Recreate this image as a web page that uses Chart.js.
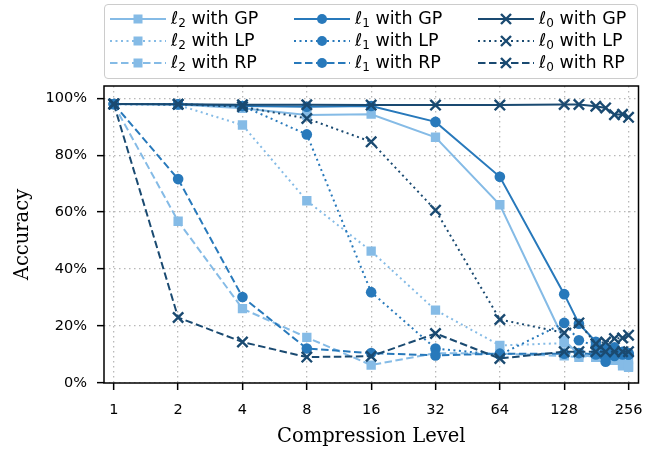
<!DOCTYPE html>
<html>
<head>
<meta charset="utf-8">
<script src="https://cdn.jsdelivr.net/npm/chart.js@4/dist/chart.umd.min.js"></script>
<style>
  html, body { margin: 0; padding: 0; background: #fff; }
  #wrap { position: relative; width: 667px; height: 449px; }
  #c { position: absolute; left: 0; top: 0; }
  #legend { position: absolute; left: 104px; top: 4px; width: 534px; height: 75px;
    border: 1.5px solid #cccccc; border-radius: 4px; box-sizing: border-box; background: rgba(255,255,255,0.8); }
  .item { position: absolute; height: 22px; display: flex; align-items: center;
    font-family: "DejaVu Sans", sans-serif; font-size: 17.5px; color: #000; white-space: nowrap; }
  .item svg { margin-right: 5px; }
  .item sub { font-size: 12px; vertical-align: -3px; }
</style>
</head>
<body>
<div id="wrap">
  <canvas id="c" width="667" height="449"></canvas>
  <div id="legend"></div>
</div>
<script>
// Compression levels (x values)
const levels = [1, 2, 4, 8, 16, 32, 64, 128, 150, 180, 200, 220, 240, 256];
const xTicks = [1, 2, 4, 8, 16, 32, 64, 128, 256];
const yTicks = [0, 20, 40, 60, 80, 100];

// Accuracy (%) for each norm / pruning method
const l2GP = [98.0, 97.8, 96.5, 94.1, 94.4, 86.3, 62.6, 15.0, 10.0, 9.0, 8.5, 8.0, 6.0, 5.5];
const l2LP = [97.8, 97.6, 90.6, 64.0, 46.3, 25.6, 13.2, 14.0, 10.5, 9.0, 8.5, 8.0, 9.0, 8.5];
const l2RP = [97.8, 56.8, 26.1, 16.0, 6.3, 10.5, 10.3, 9.5, 9.0, 10.0, 9.5, 8.0, 7.0, 6.0];
const l1GP = [98.0, 97.9, 97.3, 97.0, 97.3, 91.7, 72.4, 31.2, 20.8, 14.5, 12.0, 12.5, 11.0, 10.5];
const l1LP = [98.0, 97.9, 97.3, 87.3, 31.9, 12.1, 9.9, 21.1, 15.0, 13.0, 10.0, 11.0, 10.5, 10.0];
const l1RP = [98.0, 71.6, 30.2, 12.1, 10.5, 9.7, 10.3, 10.3, 10.5, 10.0, 7.5, 9.5, 10.0, 10.0];
const l0GP = [98.0, 97.9, 97.7, 97.7, 97.6, 97.6, 97.6, 97.8, 97.8, 97.2, 96.6, 94.2, 94.4, 93.3];
const l0LP = [98.0, 97.9, 97.0, 92.9, 84.7, 60.7, 22.3, 17.6, 21.1, 13.8, 14.4, 15.6, 15.8, 16.8];
const l0RP = [98.0, 23.0, 14.4, 9.1, 9.4, 17.4, 8.6, 11.0, 11.0, 11.0, 11.0, 11.0, 11.0, 11.0];

const C2 = '#85bbe6', C1 = '#2879bb', C0 = '#1a4a71';
const DASHED = [7.5, 3.5], DOTTED = [2, 3.5];

const series = [
  { n: '2', m: 'GP', data: l2GP, color: C2, dash: [], marker: 'rect' },
  { n: '2', m: 'LP', data: l2LP, color: C2, dash: DOTTED, marker: 'rect' },
  { n: '2', m: 'RP', data: l2RP, color: C2, dash: DASHED, marker: 'rect' },
  { n: '1', m: 'GP', data: l1GP, color: C1, dash: [], marker: 'circle' },
  { n: '1', m: 'LP', data: l1LP, color: C1, dash: DOTTED, marker: 'circle' },
  { n: '1', m: 'RP', data: l1RP, color: C1, dash: DASHED, marker: 'circle' },
  { n: '0', m: 'GP', data: l0GP, color: C0, dash: [], marker: 'crossRot' },
  { n: '0', m: 'LP', data: l0LP, color: C0, dash: DOTTED, marker: 'crossRot' },
  { n: '0', m: 'RP', data: l0RP, color: C0, dash: DASHED, marker: 'crossRot' },
];
const radius = { rect: 6.6, circle: 5.3, crossRot: 7.3 };

const datasets = series.map((s, i) => ({
  label: 'ℓ' + s.n + ' with ' + s.m,
  data: levels.map((x, k) => ({ x: x, y: s.data[k] })),
  borderColor: s.color,
  backgroundColor: s.color,
  borderWidth: 2,
  borderDash: s.dash,
  pointStyle: s.marker,
  pointRadius: radius[s.marker],
  pointBorderWidth: s.marker === 'crossRot' ? 2.4 : 0,
  pointBackgroundColor: s.color,
  pointBorderColor: s.color,
  fill: false,
  tension: 0,
  order: 8 - i,
}));

const frame = {
  id: 'frame',
  afterDraw(chart) {
    const { ctx, chartArea: a } = chart;
    ctx.save();
    ctx.strokeStyle = '#000';
    ctx.lineWidth = 1.5;
    ctx.strokeRect(a.left, a.top, a.right - a.left, a.bottom - a.top);
    ctx.restore();
  }
};
const whiteBg = {
  id: 'whiteBg',
  beforeDraw(chart) {
    const ctx = chart.ctx;
    ctx.save(); ctx.fillStyle = '#fff'; ctx.fillRect(0, 0, chart.width, chart.height); ctx.restore();
  }
};

new Chart(document.getElementById('c'), {
  type: 'line',
  data: { datasets },
  plugins: [whiteBg, frame],
  options: {
    responsive: false,
    animation: false,
    events: [],
    layout: { padding: { top: 86, right: 28.5, bottom: 0, left: 0 } },
    plugins: { legend: { display: false }, tooltip: { enabled: false } },
    scales: {
      x: {
        type: 'logarithmic',
        min: 0.9, max: 285,
        afterBuildTicks: (s) => { s.ticks = xTicks.map(v => ({ value: v })); },
        afterFit: (s) => { s.height = 66; },
        ticks: { callback: (v) => String(v), color: '#000', padding: 12, maxRotation: 0, autoSkip: false,
                 font: { family: 'DejaVu Sans', size: 14.5 } },
        grid: { color: '#b8b8b8', lineWidth: 1.3, tickLength: 7, tickColor: '#000', tickWidth: 1.5, tickBorderDash: [] },
        border: { display: false, dash: [1.5, 3.5] },
        title: { display: true, text: 'Compression Level', color: '#000', padding: { top: 0, bottom: 0.5 },
                 font: { family: 'DejaVu Serif', size: 19.5 } }
      },
      y: {
        type: 'linear',
        min: 0, max: 104.3,
        afterBuildTicks: (s) => { s.ticks = yTicks.map(v => ({ value: v })); },
        afterFit: (s) => { s.width = 104; },
        ticks: { callback: (v) => v + '%', color: '#000', padding: 10,
                 font: { family: 'DejaVu Sans', size: 14.5 } },
        grid: { color: '#b8b8b8', lineWidth: 1.3, tickLength: 7, tickColor: '#000', tickWidth: 1.5, tickBorderDash: [] },
        border: { display: false, dash: [1.5, 3.5] },
        title: { display: true, text: 'Accuracy', color: '#000', padding: { top: 11, bottom: 0 },
                 font: { family: 'DejaVu Serif', size: 19.5 } }
      }
    }
  }
});

// HTML legend (3 columns: ℓ2, ℓ1, ℓ0; rows: GP, LP, RP)
const legend = document.getElementById('legend');
const colX = [5, 189, 373];    // left of sample line, relative to legend box
const rowY = [3, 25, 47];
series.forEach((s, i) => {
  const col = Math.floor(i / 3), row = i % 3;
  const div = document.createElement('div');
  div.className = 'item';
  div.style.left = colX[col] + 'px';
  div.style.top = rowY[row] + 'px';
  const w = 56, h = 22, cx = w / 2, cy = h / 2;
  let mk = '';
  if (s.marker === 'rect') mk = `<rect x="${cx-4.5}" y="${cy-4.5}" width="9" height="9" fill="${s.color}"/>`;
  else if (s.marker === 'circle') mk = `<circle cx="${cx}" cy="${cy}" r="5" fill="${s.color}"/>`;
  else mk = `<path d="M${cx-5} ${cy-5}L${cx+5} ${cy+5}M${cx-5} ${cy+5}L${cx+5} ${cy-5}" stroke="${s.color}" stroke-width="2.4"/>`;
  const dash = s.dash.length ? `stroke-dasharray="${s.dash.join(' ')}"` : '';
  div.innerHTML = `<svg width="${w}" height="${h}"><line x1="0" y1="${cy}" x2="${w}" y2="${cy}" stroke="${s.color}" stroke-width="2" ${dash}/>${mk}</svg>` +
    `<span><i>ℓ</i><sub>${s.n}</sub> with ${s.m}</span>`;
  legend.appendChild(div);
});
</script>
</body>
</html>
